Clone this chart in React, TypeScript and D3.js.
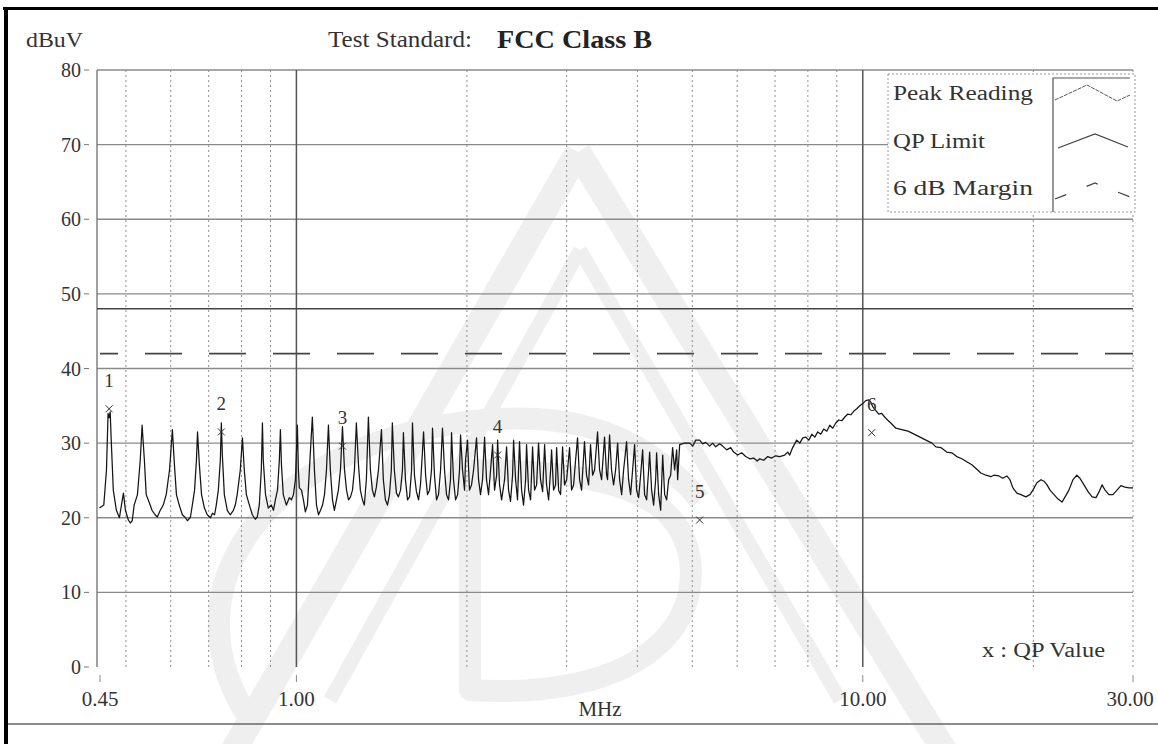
import React from "react";
import * as d3 from "d3";

// Peak reading trace: [frequency MHz, level dBuV]
const peakReading: [number, number][] = [
  [0.449, 21.3], [0.457, 21.7], [0.462, 26.4], [0.465, 34.0], [0.467, 33.4], [0.469, 34.2], [0.471, 30.4],
  [0.475, 23.7], [0.481, 21.0], [0.487, 20.0], [0.491, 21.7], [0.495, 23.3], [0.499, 21.0], [0.505, 19.7],
  [0.509, 19.3], [0.513, 19.6], [0.517, 21.7], [0.524, 23.1], [0.530, 27.7], [0.534, 32.4], [0.539, 27.7],
  [0.543, 23.1], [0.550, 22.0], [0.556, 21.0], [0.563, 20.4], [0.568, 20.1], [0.575, 21.0], [0.582, 21.7],
  [0.589, 23.1], [0.597, 26.4], [0.604, 31.8], [0.609, 27.1], [0.614, 23.1], [0.621, 21.7], [0.629, 20.4],
  [0.637, 20.0], [0.642, 19.6], [0.650, 20.1], [0.655, 21.7], [0.661, 23.7], [0.666, 27.7], [0.669, 31.5],
  [0.674, 27.1], [0.680, 23.1], [0.688, 21.3], [0.696, 20.4], [0.705, 20.0], [0.711, 20.6], [0.717, 20.4],
  [0.722, 21.7], [0.728, 23.7], [0.734, 27.7], [0.737, 32.7], [0.740, 28.4], [0.746, 23.1], [0.755, 21.0],
  [0.764, 20.4], [0.774, 21.0], [0.780, 21.7], [0.786, 23.1], [0.796, 26.4], [0.803, 30.7], [0.809, 26.4],
  [0.816, 23.1], [0.826, 21.7], [0.836, 20.4], [0.846, 19.8], [0.853, 20.1], [0.860, 21.7], [0.867, 26.4],
  [0.871, 32.7], [0.874, 27.7], [0.882, 23.1], [0.892, 21.3], [0.903, 21.7], [0.911, 21.0], [0.918, 22.4],
  [0.926, 23.7], [0.933, 27.7], [0.937, 31.8], [0.941, 27.1], [0.948, 23.1], [0.960, 21.7], [0.972, 22.7],
  [0.980, 22.4], [0.988, 23.1], [0.996, 25.1], [1.004, 32.4], [1.008, 26.4], [1.012, 24.0], [1.021, 23.7],
  [1.029, 22.4], [1.037, 20.8], [1.046, 21.7], [1.059, 29.1], [1.067, 33.5], [1.076, 26.4], [1.085, 21.7],
  [1.094, 20.4], [1.103, 21.0], [1.112, 21.7], [1.121, 23.1], [1.130, 26.4], [1.139, 32.4], [1.148, 26.4],
  [1.158, 22.4], [1.167, 21.0], [1.177, 22.4], [1.186, 23.7], [1.196, 26.4], [1.206, 32.2], [1.216, 26.4],
  [1.226, 23.7], [1.236, 22.4], [1.246, 22.8], [1.256, 23.7], [1.266, 26.4], [1.276, 32.7], [1.287, 27.1],
  [1.297, 23.7], [1.308, 22.4], [1.318, 21.7], [1.329, 25.1], [1.340, 33.5], [1.351, 26.4], [1.362, 23.7],
  [1.373, 22.8], [1.384, 24.1], [1.396, 26.4], [1.413, 31.8], [1.424, 25.1], [1.436, 22.4], [1.448, 21.7],
  [1.460, 23.1], [1.471, 26.4], [1.477, 32.7], [1.489, 26.4], [1.502, 23.3], [1.514, 22.8], [1.527, 23.7],
  [1.539, 26.4], [1.545, 31.4], [1.558, 25.1], [1.571, 22.4], [1.584, 22.8], [1.597, 26.4], [1.603, 32.7],
  [1.616, 25.7], [1.629, 23.5], [1.643, 22.4], [1.656, 24.4], [1.670, 29.1], [1.677, 31.5], [1.691, 25.7],
  [1.704, 23.1], [1.718, 23.7], [1.732, 26.4], [1.739, 32.0], [1.753, 25.7], [1.768, 22.4], [1.782, 23.1],
  [1.797, 26.4], [1.811, 32.0], [1.826, 26.4], [1.841, 23.1], [1.856, 22.4], [1.871, 25.1], [1.879, 31.4],
  [1.894, 25.1], [1.910, 22.4], [1.926, 23.1], [1.941, 26.4], [1.949, 31.1], [1.965, 26.4], [1.981, 23.7],
  [1.989, 27.7], [2.005, 30.4], [2.021, 23.7], [2.038, 24.4], [2.055, 26.4], [2.080, 30.7], [2.097, 25.1],
  [2.114, 23.1], [2.131, 25.1], [2.149, 30.8], [2.166, 25.1], [2.184, 23.1], [2.202, 26.4], [2.220, 29.8],
  [2.238, 23.7], [2.257, 25.7], [2.266, 30.4], [2.284, 24.4], [2.303, 22.4], [2.331, 25.1], [2.350, 29.5],
  [2.369, 23.7], [2.388, 22.2], [2.408, 25.7], [2.418, 30.4], [2.438, 25.1], [2.457, 22.4], [2.477, 30.2],
  [2.498, 23.7], [2.518, 21.7], [2.539, 25.1], [2.549, 29.8], [2.570, 23.7], [2.591, 22.4], [2.612, 29.5],
  [2.633, 23.7], [2.655, 24.4], [2.676, 30.0], [2.698, 25.1], [2.721, 23.5], [2.743, 29.8], [2.765, 24.4],
  [2.788, 22.4], [2.811, 26.4], [2.822, 29.1], [2.845, 23.7], [2.868, 24.4], [2.880, 29.4], [2.904, 23.7],
  [2.927, 23.1], [2.951, 29.5], [2.975, 24.4], [3.000, 25.1], [3.036, 29.4], [3.061, 23.7], [3.086, 24.4],
  [3.111, 27.7], [3.136, 30.7], [3.162, 25.1], [3.188, 23.7], [3.226, 30.2], [3.253, 25.7], [3.280, 24.4],
  [3.306, 29.8], [3.334, 25.7], [3.361, 26.4], [3.402, 31.5], [3.430, 26.4], [3.458, 25.1], [3.500, 30.8],
  [3.529, 25.7], [3.543, 25.1], [3.572, 31.1], [3.601, 26.4], [3.631, 24.4], [3.661, 26.4], [3.691, 30.0],
  [3.721, 25.1], [3.752, 23.1], [3.782, 26.4], [3.828, 30.2], [3.859, 25.1], [3.891, 23.1], [3.923, 26.4],
  [3.955, 29.8], [3.987, 23.7], [4.020, 22.7], [4.053, 25.7], [4.086, 29.1], [4.119, 23.1], [4.153, 22.4],
  [4.187, 26.4], [4.204, 28.8], [4.238, 23.7], [4.273, 21.7], [4.308, 25.1], [4.325, 28.7], [4.361, 23.1],
  [4.397, 21.0], [4.433, 28.4], [4.469, 23.1], [4.505, 22.4], [4.542, 25.1], [4.579, 25.7], [4.616, 29.4],
  [4.654, 26.4], [4.692, 29.1], [4.711, 25.1], [4.750, 29.8], [4.848, 30.0], [4.948, 30.0], [5.009, 29.6],
  [5.070, 30.4], [5.152, 30.4], [5.215, 29.9], [5.279, 30.1], [5.366, 29.6], [5.432, 30.0], [5.499, 29.5],
  [5.589, 29.9], [5.658, 29.6], [5.751, 29.1], [5.845, 29.4], [5.917, 28.8], [6.014, 28.4], [6.112, 28.7],
  [6.213, 28.2], [6.315, 27.9], [6.418, 28.0], [6.510, 27.6], [6.577, 27.9], [6.685, 27.7], [6.795, 28.2],
  [6.906, 28.0], [7.019, 28.3], [7.134, 28.2], [7.281, 28.4], [7.370, 28.8], [7.430, 28.4], [7.520, 29.4],
  [7.645, 30.4], [7.742, 30.0], [7.834, 30.7], [7.932, 30.8], [8.030, 30.4], [8.128, 31.2], [8.228, 30.8],
  [8.328, 31.5], [8.430, 31.2], [8.533, 31.9], [8.638, 31.6], [8.745, 32.4], [8.851, 32.0], [8.960, 32.7],
  [9.071, 33.1], [9.183, 33.0], [9.297, 33.5], [9.411, 33.9], [9.527, 33.8], [9.644, 34.3], [9.759, 34.6],
  [9.879, 35.0], [10.0, 35.3], [10.12, 35.7], [10.25, 35.8], [10.33, 35.5], [10.41, 34.9], [10.54, 34.4],
  [10.67, 33.9], [10.80, 34.0], [10.93, 33.5], [11.06, 33.1], [11.24, 32.6], [11.44, 32.0], [11.72, 31.8],
  [12.02, 31.6], [12.32, 31.2], [12.62, 30.8], [12.93, 30.4], [13.25, 30.0], [13.46, 29.5], [13.73, 29.4],
  [14.07, 28.8], [14.36, 28.7], [14.65, 28.2], [14.96, 27.9], [15.26, 27.5], [15.58, 27.1], [15.90, 26.5],
  [16.16, 26.0], [16.50, 25.7], [16.83, 25.5], [17.04, 25.7], [17.39, 25.6], [17.67, 25.3], [17.96, 25.6],
  [18.19, 25.1], [18.41, 24.0], [18.71, 23.3], [19.02, 23.1], [19.41, 22.8], [19.73, 23.1], [19.97, 23.7],
  [20.30, 24.7], [20.64, 25.1], [20.89, 24.9], [21.15, 24.4], [21.41, 23.7], [21.76, 23.1], [22.12, 22.5],
  [22.48, 22.1], [22.76, 22.8], [23.12, 23.7], [23.50, 25.1], [23.88, 25.7], [24.17, 25.3], [24.58, 24.4],
  [24.99, 23.5], [25.40, 22.8], [25.81, 22.7], [26.14, 23.5], [26.45, 24.4], [26.78, 23.7], [27.20, 23.1],
  [27.65, 23.1], [28.11, 23.7], [28.56, 24.3], [29.03, 24.1], [29.51, 24.0], [30.0, 24.0],
];

const qpLimitDb = 48;
const marginDb = 42;
const yTickValues = [0, 10, 20, 30, 40, 50, 60, 70, 80];
const xTickValues = [0.45, 1, 10, 30];
const xTickLabels = ["0.45", "1.00", "10.00", "30.00"];
const majorGridMHz = [1, 10];
const minorGridMHz = [0.5, 0.6, 0.7, 0.8, 0.9, 2, 3, 4, 5, 6, 7, 8, 9, 20, 30];
const markerIds = ["1", "2", "3", "4", "5", "6"];
const markerFreqMHz = [0.467, 0.737, 1.206, 2.266, 5.152, 10.37];
const markerQpDb = [34.6, 31.5, 29.6, 28.4, 19.7, 31.4];
const legendLabels = ["Peak Reading", "QP Limit", "6 dB Margin"];
const legendLabelWidths = [140, 92, 140];

const W = 1158;
const H = 744;
const FONT = "'Liberation Serif','Times New Roman',serif";

export default function App() {
  const x = d3.scaleLog().domain([0.45, 30]).range([100, 1133]);
  const y = d3.scaleLinear().domain([0, 80]).range([667, 70]);
  const line = d3
    .line<[number, number]>()
    .x((d) => x(d[0]))
    .y((d) => y(d[1]));

  const left = x(0.45);
  const right = x(30);
  const top = y(80);
  const bottom = y(0);

  const legendRows = [100, 148, 195];

  return (
    <svg
      width={W}
      height={H}
      viewBox={`0 0 ${W} ${H}`}
      style={{ position: "absolute", left: 0, top: 0, background: "#fff" }}
      fontFamily={FONT}
    >
      <rect x={0} y={0} width={W} height={H} fill="#fff" />

      {/* faint watermark */}
      <g fill="none" stroke="#efefef" strokeLinejoin="round">
        <path d="M578,152 L228,760 M578,152 L950,760" strokeWidth={26} />
        <path d="M580,250 L330,700 M580,250 L840,700" strokeWidth={14} />
        <path d="M250,720 C170,600 250,470 420,430 C560,400 640,430 700,500" strokeWidth={22} />
        <path d="M470,470 L470,690 C620,700 700,640 690,560 C680,490 600,470 470,470" strokeWidth={22} />
      </g>

      {/* frame */}
      <line x1={3} y1={8.5} x2={W} y2={8.5} stroke="#000" strokeWidth={3} />
      <line x1={6} y1={7} x2={6} y2={H} stroke="#000" strokeWidth={4} />
      <line x1={8} y1={724} x2={W} y2={724} stroke="#666" strokeWidth={1.6} />

      {/* horizontal grid */}
      {yTickValues.filter((v) => v > 0).map((v) => (
        <line key={"h" + v} x1={left - 3} x2={right} y1={y(v)} y2={y(v)} stroke="#8a8a8a" strokeWidth={1.3} />
      ))}

      {/* vertical minor grid */}
      {minorGridMHz.map((f) => (
        <line
          key={"vm" + f}
          x1={x(f)}
          x2={x(f)}
          y1={top}
          y2={bottom}
          stroke="#8f8f8f"
          strokeWidth={1}
          strokeDasharray="2,3"
        />
      ))}
      {/* vertical major grid */}
      {majorGridMHz.map((f) => (
        <line key={"vM" + f} x1={x(f)} x2={x(f)} y1={top} y2={bottom} stroke="#555" strokeWidth={1.5} />
      ))}
      <line x1={left - 3} x2={left - 3} y1={top} y2={bottom} stroke="#777" strokeWidth={1.4} />

      {/* y axis labels */}
      {yTickValues.map((v) => (
        <g key={"yt" + v}>
          <text x={81} y={y(v) + 7} textAnchor="end" fontSize={20} fill="#333">
            {v}
          </text>
          <line x1={84} x2={89} y1={y(v)} y2={y(v)} stroke="#777" strokeWidth={1} />
        </g>
      ))}

      {/* x axis labels */}
      {xTickValues.map((f, i) => (
        <g key={"xt" + f}>
          <line x1={x(f)} x2={x(f)} y1={675} y2={682} stroke="#888" strokeWidth={1} />
          <text x={i === 3 ? x(f) - 3 : x(f)} y={706} textAnchor="middle" fontSize={21} fill="#333">
            {xTickLabels[i]}
          </text>
        </g>
      ))}
      <text x={600} y={716} textAnchor="middle" fontSize={21} fill="#333">
        MHz
      </text>

      {/* titles */}
      <text x={26} y={47} fontSize={21} fill="#333" textLength={57} lengthAdjust="spacingAndGlyphs">
        dBuV
      </text>
      <text x={328} y={47} fontSize={23} fill="#333" textLength={144} lengthAdjust="spacingAndGlyphs">
        Test Standard:
      </text>
      <text
        x={497}
        y={48}
        fontSize={25}
        fontWeight="bold"
        fill="#222"
        textLength={155}
        lengthAdjust="spacingAndGlyphs"
      >
        FCC Class B
      </text>

      {/* limits */}
      <line x1={left - 3} x2={right} y1={y(qpLimitDb)} y2={y(qpLimitDb)} stroke="#444" strokeWidth={1.6} />
      <line
        x1={left}
        x2={right}
        y1={y(marginDb)}
        y2={y(marginDb)}
        stroke="#444"
        strokeWidth={1.6}
        strokeDasharray="37,27"
        strokeDashoffset={19}
      />

      {/* peak reading trace */}
      <path d={line(peakReading) || ""} fill="none" stroke="#151515" strokeWidth={1.25} strokeLinejoin="round" />

      {/* QP markers */}
      {markerIds.map((id, i) => {
        const cx = x(markerFreqMHz[i]);
        const cy = y(markerQpDb[i]);
        return (
          <g key={"m" + id}>
            <path
              d={`M${cx - 3.5},${cy - 3.5}L${cx + 3.5},${cy + 3.5}M${cx - 3.5},${cy + 3.5}L${cx + 3.5},${cy - 3.5}`}
              stroke="#333"
              strokeWidth={1}
            />
            <text x={cx} y={cy - 22} textAnchor="middle" fontSize={19} fill="#333">
              {id}
            </text>
          </g>
        );
      })}

      {/* QP value note */}
      <text x={982} y={657} fontSize={20} fill="#333" textLength={123} lengthAdjust="spacingAndGlyphs">
        x : QP Value
      </text>

      {/* legend */}
      <g>
        <rect x={888} y={74} width={247} height={138} fill="#fff" stroke="#999" strokeWidth={1} strokeDasharray="2,2" />
        <path d="M1053,212 L1053,78 L1130,78" fill="none" stroke="#555" strokeWidth={1.2} />
        {legendLabels.map((lab, i) => (
          <text
            key={lab}
            x={893}
            y={legendRows[i]}
            fontSize={20}
            fill="#333"
            textLength={legendLabelWidths[i]}
            lengthAdjust="spacingAndGlyphs"
          >
            {lab}
          </text>
        ))}
        <path d="M1055,100 L1087,85 L1117,101 L1130,95" fill="none" stroke="#555" strokeWidth={1} strokeDasharray="4,1" />
        <path d="M1058,148 L1095,134 L1128,147" fill="none" stroke="#444" strokeWidth={1.3} />
        <path d="M1055,199 L1095,183 L1130,197" fill="none" stroke="#444" strokeWidth={1.3} strokeDasharray="12,22" />
      </g>
    </svg>
  );
}
